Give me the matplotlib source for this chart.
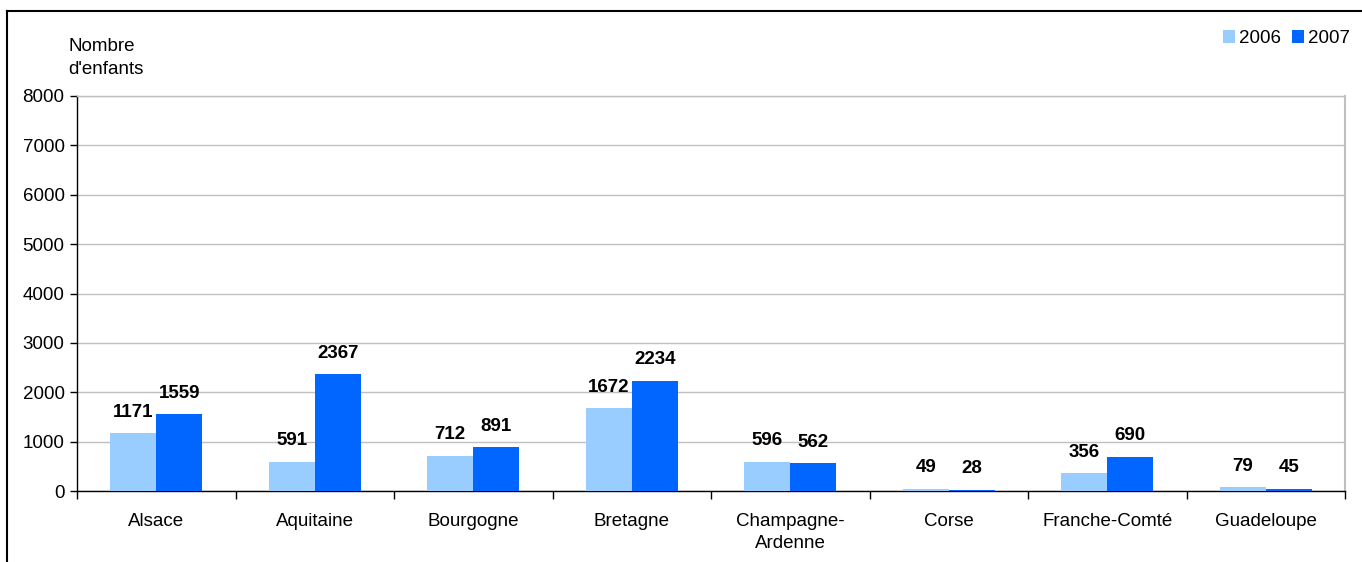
import matplotlib
matplotlib.use("Agg")
import matplotlib.pyplot as plt
import numpy as np
from matplotlib.lines import Line2D
from matplotlib.ticker import MultipleLocator

plt.rcParams['font.family'] = ['Liberation Sans', 'DejaVu Sans']

regions = ["Alsace", "Aquitaine", "Bourgogne", "Bretagne", "Champagne-\nArdenne",
           "Corse", "Franche-Comté", "Guadeloupe"]
vals_2006 = [1171, 591, 712, 1672, 596, 49, 356, 79]
vals_2007 = [1559, 2367, 891, 2234, 562, 28, 690, 45]
yticks = [0, 1000, 2000, 3000, 4000, 5000, 6000, 7000, 8000]

c2006 = "#99CCFF"
c2007 = "#0066FF"

fig = plt.figure(figsize=(13.62, 5.62), dpi=100)
ax = fig.add_axes([77/1362, 1-491/562, (1345-77)/1362, (491-96)/562])

x = np.arange(len(regions))
w = 0.29
b1 = ax.bar(x - w/2, vals_2006, w, color=c2006, label="2006", zorder=3)
b2 = ax.bar(x + w/2, vals_2007, w, color=c2007, label="2007", zorder=3)

for bars, vals in [(b1, vals_2006), (b2, vals_2007)]:
    for r, v in zip(bars, vals):
        ax.annotate(str(v), (r.get_x() + r.get_width()/2, v), xytext=(0, 9),
                    textcoords="offset points", ha="center", va="bottom",
                    fontsize=13.5, fontweight="bold", zorder=4)

ax.set_xlim(-0.5, len(regions) - 0.5)
ax.set_ylim(0, 8000)
ax.set_yticks(yticks)
ax.set_xticks(x)
ax.set_xticklabels(regions, fontsize=13.5, linespacing=1.35)
ax.xaxis.set_minor_locator(MultipleLocator(1, offset=0.5))
ax.tick_params(axis='x', which='major', length=0, pad=16)
ax.tick_params(axis='x', which='minor', length=6, direction='out', width=1)
ax.tick_params(axis='y', length=5, width=1, labelsize=13.5, pad=4)

ax.grid(axis='y', color='#C0C0C0', linewidth=1, zorder=0)
ax.spines['top'].set_color('#C0C0C0')
ax.spines['right'].set_color('#C0C0C0')
ax.spines['top'].set_linewidth(1)
ax.spines['right'].set_linewidth(1.5)
ax.spines['left'].set_linewidth(1)
ax.spines['bottom'].set_linewidth(1)

fig.text(68/1362, 1-38/562, "Nombre\nd'enfants", fontsize=13.5, ha='left', va='top',
         linespacing=1.45)

leg = fig.legend(handles=[b1, b2], loc='upper right', bbox_to_anchor=(1350/1362, 1-30/562),
                 ncol=2, frameon=False, fontsize=13.5, handlelength=0.65, handleheight=0.65,
                 handletextpad=0.2, columnspacing=0.6, borderaxespad=0, borderpad=0)

fig.add_artist(Line2D([7/1362, 1], [1-11/562, 1-11/562], color='black', linewidth=1.5,
                      transform=fig.transFigure))
fig.add_artist(Line2D([7/1362, 7/1362], [0, 1-11/562], color='black', linewidth=1.5,
                      transform=fig.transFigure))

fig.savefig("out.png", dpi=100)
